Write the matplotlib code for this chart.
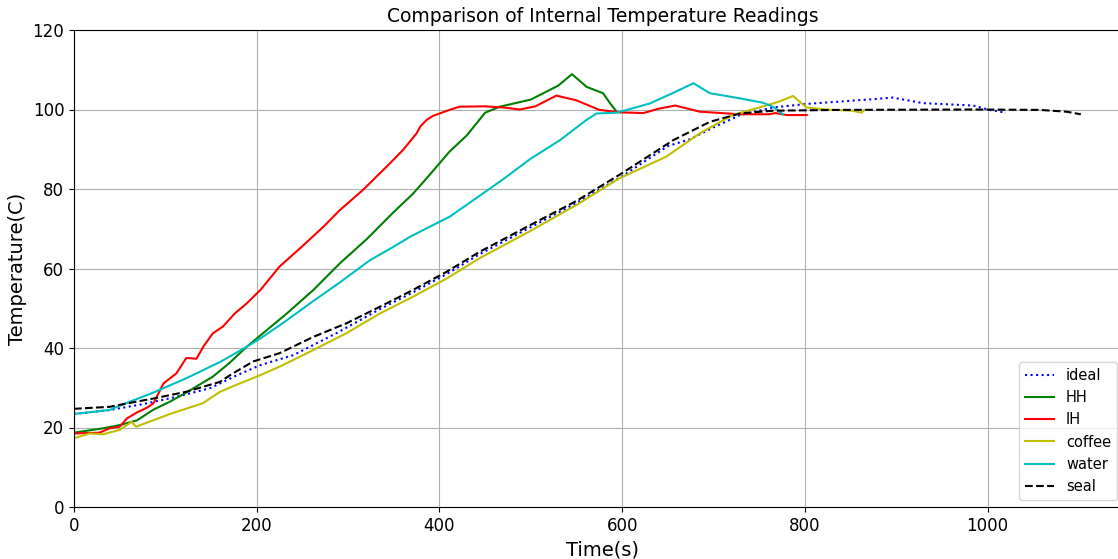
import matplotlib
matplotlib.use("Agg")
import matplotlib.pyplot as plt

# ---- data ----
ideal_t = [0, 39, 76, 112, 149, 178, 204, 240, 287, 335, 371, 408, 444, 500, 550, 600, 650, 674, 700, 729, 765, 802, 838, 875, 896, 929, 984, 1002, 1020]
ideal_T = [23.4, 24.4, 25.9, 27.7, 29.9, 33.1, 35.7, 38.2, 43.7, 49.8, 54.0, 58.6, 63.6, 70.4, 76.5, 83.2, 90.8, 92.5, 95.5, 98.6, 100.5, 101.4, 102.0, 102.6, 103.0, 101.6, 101.0, 99.9, 99.2]

HH_t = [0, 32, 50, 69, 87, 105, 123, 152, 170, 189, 211, 233, 262, 291, 320, 349, 371, 389, 411, 430, 450, 466, 500, 530, 545, 561, 579, 587, 594, 598]
HH_T = [18.7, 19.8, 20.6, 21.8, 24.5, 26.5, 28.8, 32.8, 36.2, 40.3, 44.5, 48.7, 54.6, 61.3, 67.3, 74.0, 78.8, 83.5, 89.4, 93.5, 99.2, 100.7, 102.5, 106.0, 108.9, 105.7, 104.1, 101.5, 99.4, 99.3]

IH_t = [0, 28, 39, 50, 58, 69, 80, 87, 98, 112, 123, 134, 142, 152, 163, 176, 189, 204, 225, 247, 273, 291, 316, 346, 360, 375, 379, 386, 393, 411, 422, 450, 470, 488, 505, 528, 550, 575, 597, 623, 640, 658, 685, 729, 760, 768, 780, 802]
IH_T = [18.5, 18.7, 19.8, 20.2, 22.3, 23.8, 25.0, 26.1, 31.1, 33.6, 37.5, 37.3, 40.5, 43.7, 45.4, 48.7, 51.2, 54.6, 60.5, 65.0, 70.5, 74.7, 79.7, 86.5, 89.8, 94.0, 95.7, 97.4, 98.4, 99.9, 100.7, 100.8, 100.5, 100.0, 100.8, 103.5, 102.3, 99.9, 99.3, 99.1, 100.2, 101.0, 99.45, 98.8, 98.8, 99.1, 98.6, 98.6]

coffee_t = [0, 17, 32, 50, 63, 68, 83, 105, 141, 160, 171, 200, 225, 262, 298, 335, 371, 408, 444, 500, 550, 597, 648, 685, 721, 747, 772, 787, 794, 802, 823, 852, 862, 865]
coffee_T = [17.3, 18.5, 18.3, 19.4, 21.4, 20.2, 21.5, 23.4, 26.1, 29.0, 30.1, 32.8, 35.3, 39.5, 43.7, 48.7, 52.9, 57.5, 62.6, 69.5, 76.0, 82.7, 88.1, 94.0, 98.6, 100.3, 102.0, 103.4, 102.0, 100.5, 100.0, 99.7, 99.2, 99.9]

water_t = [0, 39, 50, 87, 123, 160, 189, 204, 230, 260, 291, 324, 350, 368, 397, 411, 444, 470, 499, 532, 561, 572, 594, 630, 655, 678, 696, 729, 754, 765, 776]
water_T = [23.4, 24.4, 25.5, 28.8, 32.4, 36.5, 40.3, 42.4, 46.5, 51.5, 56.5, 62.1, 65.5, 68.0, 71.4, 73.0, 78.3, 82.5, 87.5, 92.3, 97.4, 99.0, 99.2, 101.5, 104.1, 106.6, 104.1, 102.8, 101.7, 100.7, 98.8]

seal_t = [0, 39, 50, 87, 123, 160, 171, 196, 225, 262, 298, 335, 371, 408, 444, 500, 550, 600, 656, 696, 729, 765, 838, 984, 1057, 1086, 1102]
seal_T = [24.7, 25.2, 25.7, 27.3, 29.0, 31.5, 33.2, 36.6, 38.7, 42.8, 46.2, 50.4, 54.6, 59.2, 64.2, 71.0, 77.0, 84.0, 92.3, 96.9, 99.0, 99.7, 99.9, 100.0, 99.9, 99.45, 98.8]

W, H = 1118, 559
fig = plt.figure(figsize=(W / 100, H / 100), dpi=100)
ax = fig.add_axes([74 / W, (H - 507) / H, (1132 - 74) / W, 477 / H])

ax.plot(ideal_t, ideal_T, color='b', linestyle=':', label='ideal')
ax.plot(HH_t, HH_T, color='g', label='HH')
ax.plot(IH_t, IH_T, color='r', label='IH')
ax.plot(coffee_t, coffee_T, color='y', label='coffee')
ax.plot(water_t, water_T, color='c', label='water')
ax.plot(seal_t, seal_T, color='k', linestyle='--', label='seal')

ax.set_xlim(0, 1158)
ax.set_ylim(0, 120)
ax.set_xticks([0, 200, 400, 600, 800, 1000])
ax.set_yticks([0, 20, 40, 60, 80, 100, 120])
ax.tick_params(labelsize=12)
ax.grid(True)
ax.set_title('Comparison of Internal Temperature Readings', fontsize=13.5)
ax.set_xlabel('Time(s)', fontsize=14)
ax.set_ylabel('Temperature(C)', fontsize=14)

ax.legend(loc='lower right', bbox_to_anchor=(1117 / W, (H - 500) / H),
          bbox_transform=fig.transFigure, borderaxespad=0, fontsize=10.5)

fig.savefig('out.png', dpi=100)
